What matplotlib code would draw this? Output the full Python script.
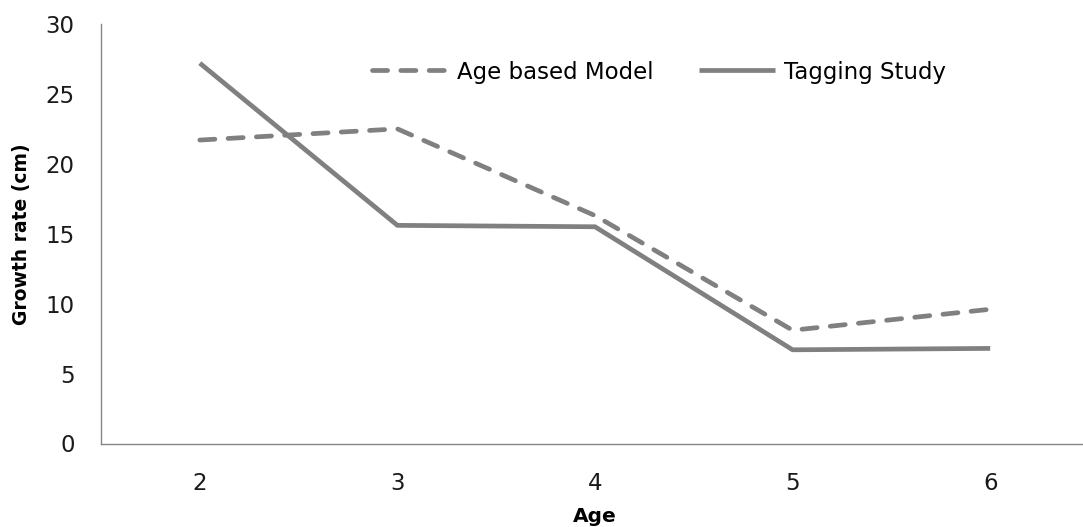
import matplotlib
matplotlib.use("Agg")
import matplotlib.pyplot as plt

plt.rcParams['font.family'] = ['DejaVu Sans']

ages = [2, 3, 4, 5, 6]
age_model = [21.7, 22.5, 16.3, 8.1, 9.6]
tagging = [27.2, 15.6, 15.5, 6.7, 6.8]
yticks = [0, 5, 10, 15, 20, 25, 30]

W, H = 1083, 527
fig = plt.figure(figsize=(W / 100, H / 100), dpi=100)
ax = fig.add_axes([101 / W, (H - 443.5) / H, (1089 - 101) / W, (443.5 - 24) / H])

gray = '#808080'
ax.plot(ages, age_model, color=gray, lw=3.4, dashes=(3.2, 2.8),
        dash_capstyle='round', dash_joinstyle='round', label='Age based Model')
ax.plot(ages, tagging, color=gray, lw=3.4, solid_capstyle='butt',
        solid_joinstyle='miter', label='Tagging Study')

ax.set_xlim(1.5, 6.5)
ax.set_ylim(0, 30)
ax.set_xticks(ages)
ax.set_yticks(yticks)
ax.tick_params(axis='both', length=0, labelsize=16.5, colors='#1a1a1a')
ax.tick_params(axis='y', pad=19)
ax.tick_params(axis='x', pad=20.5)
for s in ['top', 'right']:
    ax.spines[s].set_visible(False)
for s in ['left', 'bottom']:
    ax.spines[s].set_color('#868686')
    ax.spines[s].set_linewidth(1.0)

ax.set_xlabel('Age', fontsize=14.5, fontweight='bold', labelpad=9)
ax.set_ylabel('Growth rate (cm)', fontsize=13.5, fontweight='bold', labelpad=10)

leg = ax.legend(loc='center', ncol=2, frameon=False, fontsize=16.5,
                handlelength=3.3, handletextpad=0.4, columnspacing=2.0,
                borderpad=0, borderaxespad=0)
leg.set_bbox_to_anchor(((659 - 101) / (1089 - 101), (443.5 - 72) / (443.5 - 24)))

fig.savefig('out.png', dpi=100)
